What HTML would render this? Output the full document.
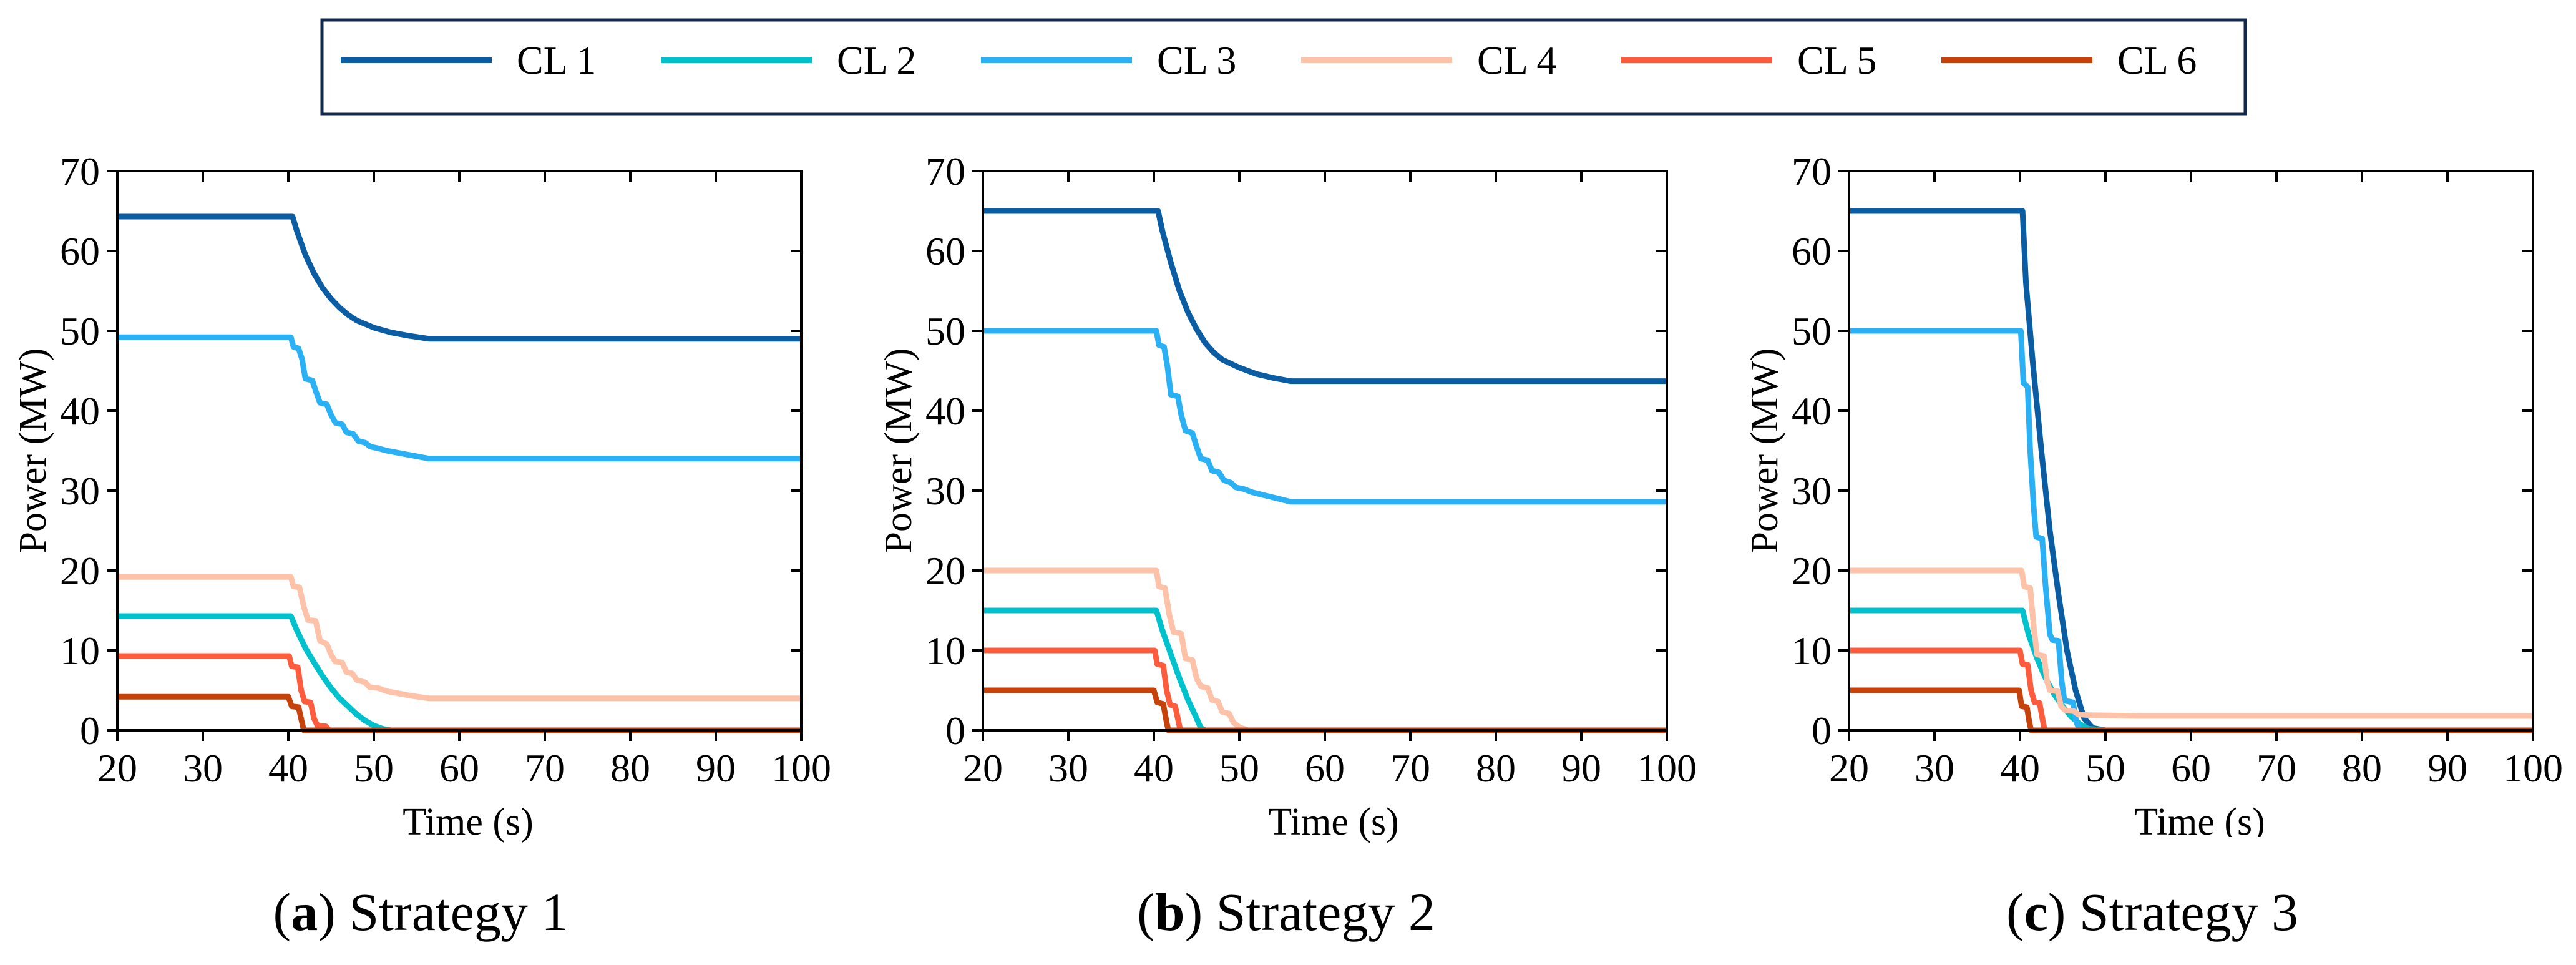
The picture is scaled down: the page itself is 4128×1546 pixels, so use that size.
<!DOCTYPE html>
<html><head><meta charset="utf-8"><style>
html,body{margin:0;padding:0;background:#fff;}
svg{display:block;font-family:"Liberation Serif",serif;}
</style></head><body>
<svg id="fig" width="4128" height="1546" viewBox="0 0 4128 1546" xmlns="http://www.w3.org/2000/svg">
<rect width="4128" height="1546" fill="#fff"/>
<g id="legend"></g>
<g id="panels"></g>
</svg>
<script>
const seriesNames = ["CL 1","CL 2","CL 3","CL 4","CL 5","CL 6"];
const seriesColors = ["#0a5ca3","#00c2cc","#2ab0f4","#fdc2a8","#ff5c3d","#c7420a"];
const xTicks = [20,30,40,50,60,70,80,90,100];
const yTicks = [0,10,20,30,40,50,60,70];
const captionLetters = ["a","b","c"];
const captionTexts = [" Strategy 1"," Strategy 2"," Strategy 3"];

// Panel (a)
const a_cl1 = [[20,64.3],[40.5,64.3],[41,62.5],[42,59.5],[43,57.2],[44,55.4],[45,54],[46,52.9],[47,52],[48,51.3],[50,50.4],[52,49.8],[54,49.4],[56.5,49],[100,49]];
const a_cl2 = [[20,14.3],[40.3,14.3],[41,12.5],[42,10.3],[43,8.5],[44,6.8],[45,5.3],[46,4],[47,3],[48,2],[49,1.2],[50,0.6],[51,0.2],[52,0],[100,0]];
const a_cl3 = [[20,49.2],[40.3,49.2],[40.6,48],[41.2,47.8],[41.6,46.5],[42,44],[42.8,43.8],[43.2,42.5],[43.7,41],[44.5,40.8],[45,39.5],[45.5,38.5],[46.3,38.3],[46.8,37.3],[47.6,37.1],[48.2,36.2],[49,36],[49.6,35.5],[50.5,35.3],[51.5,35],[52.5,34.8],[54,34.5],[56.5,34],[100,34]];
const a_cl4 = [[20,19.2],[40.3,19.2],[40.6,18],[41.3,17.9],[41.8,15.5],[42.3,13.8],[43.2,13.7],[43.7,11.2],[44.5,10.8],[45,9.5],[45.5,8.6],[46.3,8.5],[46.8,7.3],[47.5,7.1],[48,6.3],[49,6],[49.5,5.4],[50.5,5.3],[51.5,4.9],[53,4.6],[54.5,4.3],[56.5,4],[100,4]];
const a_cl5 = [[20,9.3],[40.1,9.3],[40.4,8],[41.1,7.9],[41.5,5],[41.9,3.6],[42.6,3.5],[43,1.5],[43.4,0.6],[44.4,0.5],[44.8,0],[100,0]];
const a_cl6 = [[20,4.2],[40,4.2],[40.4,3],[41.2,2.9],[41.6,1],[41.8,0],[100,0]];
// Panel (b)
const b_cl1 = [[20,65],[40.5,65],[41,62.5],[42,58.5],[43,55],[44,52.3],[45,50.2],[46,48.5],[47,47.3],[48,46.4],[50,45.4],[52,44.6],[54,44.1],[56,43.7],[100,43.7]];
const b_cl2 = [[20,15],[40.3,15],[41,12.5],[42,9.5],[43,6.5],[44,3.8],[45,1.5],[45.5,0.3],[46,0],[100,0]];
const b_cl3 = [[20,50],[40.3,50],[40.6,48.2],[41.2,48],[41.6,45.5],[42,42],[42.8,41.8],[43.2,39.5],[43.7,37.5],[44.5,37.2],[45,35.5],[45.5,34],[46.3,33.8],[46.8,32.5],[47.6,32.3],[48.2,31.3],[49,31],[49.6,30.4],[50.5,30.2],[51.5,29.8],[53,29.4],[54.5,29],[56,28.6],[100,28.6]];
const b_cl4 = [[20,20],[40.3,20],[40.6,18],[41.3,17.8],[41.8,14.5],[42.3,12.3],[43.2,12.1],[43.7,9],[44.5,8.8],[45,6.5],[45.5,5.5],[46.3,5.3],[46.8,3.8],[47.5,3.6],[48,2.3],[48.8,2.1],[49.3,1],[50,0.4],[51,0],[100,0]];
const b_cl5 = [[20,10],[40.1,10],[40.4,8.3],[41.1,8.1],[41.5,5],[41.9,3.2],[42.5,3],[42.9,1],[43.1,0],[100,0]];
const b_cl6 = [[20,5],[40,5],[40.4,3.5],[41.1,3.3],[41.5,1],[41.7,0],[100,0]];
// Panel (c)
const c_cl1 = [[20,65],[40.3,65],[40.7,56],[41.5,46],[42.5,35],[43.5,25],[44.5,17],[45.5,10],[46.5,5],[47.5,1.5],[48.5,0.3],[50,0],[100,0]];
const c_cl2 = [[20,15],[40.3,15],[41,12],[42,9],[43,6.5],[44,4.5],[45,3],[46,1.7],[47,0.8],[48,0.2],[50,0],[100,0]];
const c_cl3 = [[20,50],[40.1,50],[40.4,43.5],[40.9,43],[41.2,35],[41.6,28],[41.9,24.2],[42.6,24],[43,18],[43.5,12],[43.8,11.3],[44.5,11.2],[44.9,6],[45.2,3.7],[46.2,3.5],[46.6,1],[47,0],[100,0]];
const c_cl4 = [[20,20],[40.2,20],[40.5,18],[41.2,17.8],[41.6,13],[42,9.5],[42.8,9.3],[43.2,6],[43.5,5],[44.4,4.9],[44.8,3],[45.3,2.5],[46.3,2.4],[46.8,2],[48,1.9],[54,1.8],[100,1.8]];
const c_cl5 = [[20,10],[40,10],[40.3,8.3],[40.9,8.2],[41.3,5],[41.7,3.5],[42.3,3.4],[42.7,1],[42.9,0],[100,0]];
const c_cl6 = [[20,5],[39.9,5],[40.2,3],[40.8,2.9],[41.1,1],[41.3,0],[100,0]];

const panelData = [[a_cl1,a_cl2,a_cl3,a_cl4,a_cl5,a_cl6],[b_cl1,b_cl2,b_cl3,b_cl4,b_cl5,b_cl6],[c_cl1,c_cl2,c_cl3,c_cl4,c_cl5,c_cl6]];

{
const NS = "http://www.w3.org/2000/svg";
function mk(tag, attrs, parent){const e=document.createElementNS(NS,tag);for(const k in attrs)e.setAttribute(k,attrs[k]);parent.appendChild(e);return e;}

const leg = document.getElementById('legend');
const lbox = mk('rect',{x:516,y:32,width:3082,height:151,fill:'#fff',stroke:'#13284a','stroke-width':5},leg);


seriesNames.forEach((n,i)=>{
  const g = mk('g',{},leg);
  
  
  const x0 = 546 + i*513;
  mk('line',{x1:x0,y1:96,x2:x0+242,y2:96,stroke:seriesColors[i],'stroke-width':10},g);
  const t = mk('text',{x:x0+282,y:118,'font-size':64,fill:'#000'},g);
  t.textContent = n;
});

const panelsG = document.getElementById('panels');
const lefts = [188,1575,2963];
const W = 1096, plotTop = 274, plotBottom = 1170;
lefts.forEach((L,p)=>{
  const g = mk('g',{},panelsG);
  
  
  const xs = v => L + (v-20)/80*W;
  const ys = v => plotBottom - v/70*(plotBottom-plotTop);
  panelData[p].forEach((pts,i)=>{
    const d = pts.map((q,j)=>(j?'L':'M')+xs(q[0]).toFixed(1)+' '+ys(q[1]).toFixed(1)).join(' ');
    const path = mk('path',{d:d,fill:'none',stroke:seriesColors[i],'stroke-width':9,'stroke-linejoin':'round'},g);
    
    
  });
  const fr = mk('rect',{x:L,y:plotTop,width:W,height:plotBottom-plotTop,fill:'none',stroke:'#000','stroke-width':4},g);
  
  
  xTicks.forEach(v=>{
    mk('line',{x1:xs(v),y1:plotBottom,x2:xs(v),y2:plotBottom+17,stroke:'#000','stroke-width':4},g);
    mk('line',{x1:xs(v),y1:plotTop,x2:xs(v),y2:plotTop+17,stroke:'#000','stroke-width':4},g);
    const t = mk('text',{x:xs(v),y:1252,'font-size':64,'text-anchor':'middle'},g);
    
    
    t.textContent = v;
  });
  yTicks.forEach(v=>{
    mk('line',{x1:L-17,y1:ys(v),x2:L,y2:ys(v),stroke:'#000','stroke-width':4},g);
    mk('line',{x1:L+W-17,y1:ys(v),x2:L+W,y2:ys(v),stroke:'#000','stroke-width':4},g);
    const t = mk('text',{x:L-28,y:ys(v)+22,'font-size':64,'text-anchor':'end'},g);
    
    
    t.textContent = v;
  });
  const yt = mk('text',{x:0,y:0,'font-size':62,'text-anchor':'middle',transform:'translate('+(L-115)+',722) rotate(-90)'},g);
  
  
  yt.textContent = 'Power (MW)';
  const xt = mk('text',{x:L+W/2+14,y:1337,'font-size':62,'text-anchor':'middle'},g);
  
  
  xt.textContent = 'Time (s)';
  if(p===2){
    const cover = mk('rect',{x:L,y:1341,width:W,height:40,fill:'#fff'},g);
    
    
  }
  const cap = mk('text',{x:L+W/2-62,y:1490,'font-size':86,'text-anchor':'middle'},g);
  
  
  const s1 = mk('tspan',{},cap); s1.textContent='(';
  const s2 = mk('tspan',{'font-weight':'bold'},cap); s2.textContent=captionLetters[p];
  const s3 = mk('tspan',{},cap); s3.textContent=')'+captionTexts[p];
});
}
</script>
</body></html>
